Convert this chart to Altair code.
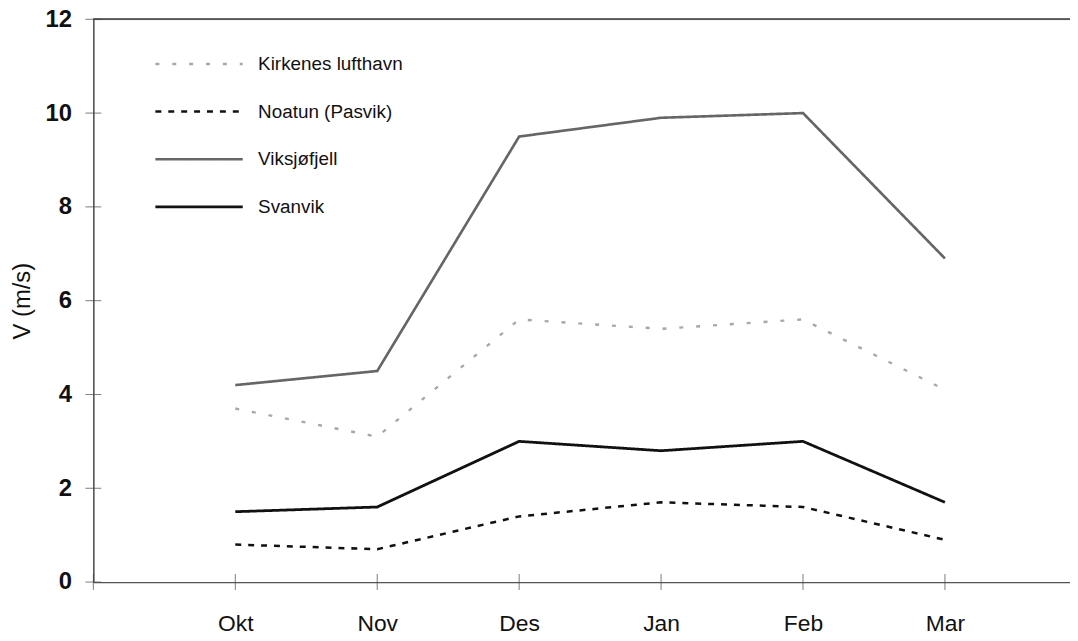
import altair as alt
import pandas as pd

months = ["Okt", "Nov", "Des", "Jan", "Feb", "Mar"]
series = ["Kirkenes lufthavn", "Noatun (Pasvik)", "Viksjøfjell", "Svanvik"]
kirkenes = [3.7, 3.1, 5.6, 5.4, 5.6, 4.1]
noatun = [0.8, 0.7, 1.4, 1.7, 1.6, 0.9]
viksjofjell = [4.2, 4.5, 9.5, 9.9, 10.0, 6.9]
svanvik = [1.5, 1.6, 3.0, 2.8, 3.0, 1.7]
y_ticks = [0, 2, 4, 6, 8, 10, 12]

rows = []
for name, vals in zip(series, [kirkenes, noatun, viksjofjell, svanvik]):
    for i, (m, v) in enumerate(zip(months, vals)):
        rows.append({"series": name, "month": m, "idx": i, "v": v})
df = pd.DataFrame(rows)
xt = pd.DataFrame({"idx": list(range(-1, len(months))), "v": 0})
yt = pd.DataFrame({"idx": -1, "v": y_ticks})

W, H = 984, 567
FONT = "Liberation Sans"
colors = ["#a8a8a8", "#111111", "#666666", "#111111"]
dashes = [[4, 13], [6, 7], [1, 0], [1, 0]]
widths = [2.4, 2.8, 1.1, 2.9]

label_expr = "[" + ",".join("'%s'" % m for m in months) + "][datum.value]"

xs = alt.Scale(domain=[-1, -1 + W / 143.0], nice=False, zero=False)
ys = alt.Scale(domain=[0, 12], nice=False)

lines = alt.Chart(df).mark_line().encode(
    x=alt.X("idx:Q", scale=xs, title=None,
            axis=alt.Axis(values=list(range(len(months))), labelExpr=label_expr,
                          ticks=False, grid=False, domainColor="#555", domainWidth=1.2,
                          labelFont=FONT, labelFontSize=23, labelColor="#111",
                          labelPadding=31)),
    y=alt.Y("v:Q", scale=ys, title="V (m/s)",
            axis=alt.Axis(values=y_ticks, ticks=False, grid=False, domainColor="#333",
                          domainWidth=1.3, labelFont=FONT, labelFontSize=24,
                          labelFontWeight="bold", labelColor="#111", labelPadding=22,
                          titleFont=FONT, titleFontSize=24, titleFontWeight="normal",
                          titleColor="#111", titlePadding=11)),
    color=alt.Color("series:N", scale=alt.Scale(domain=series, range=colors),
                    legend=alt.Legend(orient="none", legendX=61, legendY=21, title=None,
                                      symbolType="stroke", symbolSize=7744,
                                      clipHeight=48, rowPadding=0,
                                      labelFont=FONT, labelFontSize=19, labelColor="#111",
                                      labelOffset=14)),
    strokeDash=alt.StrokeDash("series:N", scale=alt.Scale(domain=series, range=dashes)),
    strokeWidth=alt.StrokeWidth("series:N", scale=alt.Scale(domain=series, range=widths)),
    detail="series:N",
)

xticks = alt.Chart(xt).mark_tick(orient="vertical", size=16, color="#444", thickness=1).encode(
    x=alt.X("idx:Q", scale=xs), y=alt.Y("v:Q", scale=ys))
yticks = alt.Chart(yt).mark_tick(orient="horizontal", size=16, color="#444", thickness=1).encode(
    x=alt.X("idx:Q", scale=xs), y=alt.Y("v:Q", scale=ys))
top = alt.Chart(yt).mark_rule(color="#555", strokeWidth=1.2).encode(
    x=alt.value(0), x2=alt.value(W), y=alt.value(0))

chart = alt.layer(top, xticks, yticks, lines).properties(
    width=W, height=H,
    padding={"left": 86, "top": 9, "right": 0, "bottom": 55},
    autosize=alt.AutoSizeParams(type="none"),
).configure_view(stroke=None).configure(background="white")

chart.save("out.html", embed_options={"renderer": "svg", "actions": False})
